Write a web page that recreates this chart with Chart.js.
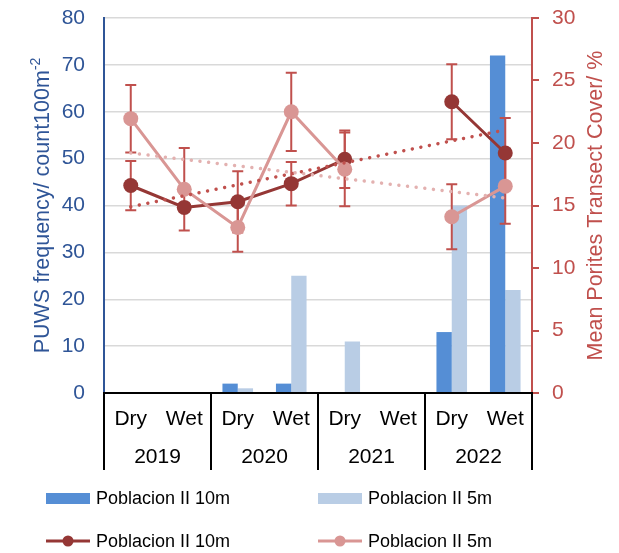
<!DOCTYPE html>
<html>
<head>
<meta charset="utf-8">
<script src="https://cdn.jsdelivr.net/npm/chart.js@4.4.0/dist/chart.umd.min.js"></script>
<style>
  html, body { margin: 0; padding: 0; background: #fff; }
</style>
</head>
<body>
<canvas id="chart" width="619" height="553"></canvas>
<script>
const seasons = ['Dry', 'Wet', 'Dry', 'Wet', 'Dry', 'Wet', 'Dry', 'Wet'];
const years = ['2019', '2020', '2021', '2022'];
const seriesNames = ['Poblacion II 10m', 'Poblacion II 5m'];

// PUWS frequency (left axis)
const puws10m = [0, 0, 2, 2, 0, 0, 13, 72];
const puws5m = [0, 0, 1, 25, 11, 0, 40, 22];

// Mean Porites transect cover (right axis) with its error
const cover10m = [16.6, 14.85, 15.3, 16.75, 18.7, null, 23.3, 19.2];
const cover5m = [21.95, 16.3, 13.25, 22.5, 17.9, null, 14.1, 16.55];
const err10m = [1.97, 0.3, 2.45, 1.74, 2.3, null, 3.0, 2.8];
const err5m = [2.7, 3.3, 1.95, 3.13, 2.95, null, 2.6, 3.0];

// linear trend, first and last season
const trend10m = [14.9, 21.05];
const trend5m = [19.2, 15.6];

const leftTicks = { min: 0, max: 80, step: 10 };
const rightTicks = { min: 0, max: 30, step: 5 };

const C = {
  bar10: '#558ED5',
  bar5: '#B9CDE5',
  line10: '#953735',
  line5: '#D99694',
  trend10: '#C0504D',
  trend5: '#E3B1B0',
  err: '#C0504D',
  blue: '#2F5597',
  red: '#C0504D'
};
const FONT = '"Liberation Sans", Arial, sans-serif';

function trendLine(ends) {
  return seasons.map((_, i) => i === 0 ? ends[0] : (i === seasons.length - 1 ? ends[1] : null));
}

// error bars go on top of the columns but under the lines
const errorBars = {
  id: 'errorBars',
  beforeDatasetDraw(chart, args) {
    if (args.index !== 2) return;
    const { ctx, scales: { x, y1 } } = chart;
    ctx.save();
    ctx.strokeStyle = C.err;
    ctx.lineWidth = 2;
    [[cover10m, err10m], [cover5m, err5m]].forEach(([vals, errs]) => {
      vals.forEach((v, i) => {
        if (v == null || errs[i] == null) return;
        const px = x.getPixelForValue(i);
        const top = y1.getPixelForValue(v + errs[i]);
        const bot = y1.getPixelForValue(v - errs[i]);
        ctx.beginPath();
        ctx.moveTo(px, top); ctx.lineTo(px, bot);
        ctx.moveTo(px - 5.5, top); ctx.lineTo(px + 5.5, top);
        ctx.moveTo(px - 5.5, bot); ctx.lineTo(px + 5.5, bot);
        ctx.stroke();
      });
    });
    ctx.restore();
  }
};

// two-level category axis (season / year) drawn as a table
const seasonAxis = {
  id: 'seasonAxis',
  afterDraw(chart) {
    const { ctx, chartArea: a, scales: { x } } = chart;
    ctx.save();
    ctx.strokeStyle = '#000';
    ctx.lineWidth = 2;
    ctx.beginPath();
    ctx.moveTo(a.left - 1, a.bottom);
    ctx.lineTo(a.right + 1, a.bottom);
    const w = (a.right - a.left) / years.length;
    for (let i = 0; i <= years.length; i++) {
      const px = Math.round(a.left + i * w);
      ctx.moveTo(px, a.bottom);
      ctx.lineTo(px, a.bottom + 77);
    }
    ctx.stroke();

    ctx.fillStyle = '#000';
    ctx.font = '21px ' + FONT;
    ctx.textAlign = 'center';
    ctx.textBaseline = 'middle';
    seasons.forEach((s, i) => ctx.fillText(s, x.getPixelForValue(i), a.bottom + 26));
    years.forEach((yr, i) => {
      const px = (x.getPixelForValue(2 * i) + x.getPixelForValue(2 * i + 1)) / 2;
      ctx.fillText(yr, px, a.bottom + 64);
    });
    ctx.restore();
  }
};

// rotated axis titles (left one has a superscript)
const axisTitles = {
  id: 'axisTitles',
  afterDraw(chart) {
    const { ctx, chartArea: a } = chart;
    const cy = (a.top + a.bottom) / 2;
    ctx.save();
    ctx.textBaseline = 'middle';
    ctx.textAlign = 'left';

    ctx.save();
    ctx.translate(43, cy);
    ctx.rotate(-Math.PI / 2);
    ctx.fillStyle = C.blue;
    ctx.font = '21.5px ' + FONT;
    const main = 'PUWS frequency/ count100m';
    const mw = ctx.measureText(main).width;
    ctx.font = '14px ' + FONT;
    const sup = '-2';
    const sw = ctx.measureText(sup).width;
    const x0 = -(mw + sw) / 2;
    ctx.font = '21.5px ' + FONT;
    ctx.fillText(main, x0, 0);
    ctx.font = '14px ' + FONT;
    ctx.fillText(sup, x0 + mw, -7);
    ctx.restore();

    ctx.save();
    ctx.translate(596, cy);
    ctx.rotate(-Math.PI / 2);
    ctx.fillStyle = C.red;
    ctx.font = '21.5px ' + FONT;
    ctx.textAlign = 'center';
    ctx.fillText('Mean Porites Transect Cover/ %', 0, 0);
    ctx.restore();

    ctx.restore();
  }
};

// 2 x 2 legend under the axis
const legendGrid = {
  id: 'legendGrid',
  afterDraw(chart) {
    const { ctx } = chart;
    const cols = [46, 318];
    const rows = [498, 541];
    const items = [
      { type: 'bar', color: C.bar10, text: seriesNames[0] },
      { type: 'bar', color: C.bar5, text: seriesNames[1] },
      { type: 'line', color: C.line10, text: seriesNames[0] },
      { type: 'line', color: C.line5, text: seriesNames[1] }
    ];
    ctx.save();
    ctx.font = '18px ' + FONT;
    ctx.textBaseline = 'middle';
    ctx.textAlign = 'left';
    items.forEach((it, k) => {
      const lx = cols[k % 2];
      const ly = rows[Math.floor(k / 2)];
      if (it.type === 'bar') {
        ctx.fillStyle = it.color;
        ctx.fillRect(lx, ly - 5, 44, 11);
      } else {
        ctx.strokeStyle = it.color;
        ctx.lineWidth = 3;
        ctx.beginPath();
        ctx.moveTo(lx, ly); ctx.lineTo(lx + 44, ly);
        ctx.stroke();
        ctx.fillStyle = it.color;
        ctx.beginPath();
        ctx.arc(lx + 22, ly, 5.5, 0, Math.PI * 2);
        ctx.fill();
      }
      ctx.fillStyle = '#000';
      ctx.fillText(it.text, lx + 50, ly + 1);
    });
    ctx.restore();
  }
};

// fixed axis widths, no extra room for the outer tick labels
function fixWidth(w) {
  return function (scale) {
    scale.width = w;
    scale.paddingTop = 0;
    scale.paddingBottom = 0;
  };
}

new Chart(document.getElementById('chart'), {
  data: {
    labels: seasons.map((s, i) => s + ' ' + years[Math.floor(i / 2)]),
    datasets: [
      {
        type: 'bar', label: seriesNames[0], data: puws10m, yAxisID: 'y',
        backgroundColor: C.bar10, categoryPercentage: 0.572, barPercentage: 1, order: 6
      },
      {
        type: 'bar', label: seriesNames[1], data: puws5m, yAxisID: 'y',
        backgroundColor: C.bar5, categoryPercentage: 0.572, barPercentage: 1, order: 6
      },
      {
        type: 'line', label: seriesNames[0], data: cover10m, yAxisID: 'y1',
        borderColor: C.line10, backgroundColor: C.line10, borderWidth: 3,
        pointRadius: 7.5, pointBorderWidth: 0, spanGaps: false, order: 4
      },
      {
        type: 'line', label: seriesNames[1], data: cover5m, yAxisID: 'y1',
        borderColor: C.line5, backgroundColor: C.line5, borderWidth: 3,
        pointRadius: 7.5, pointBorderWidth: 0, spanGaps: false, order: 3
      },
      {
        type: 'line', label: 'trend 10m', data: trendLine(trend10m), yAxisID: 'y1',
        borderColor: C.trend10, borderWidth: 3.5, borderDash: [0.01, 8.7], borderCapStyle: 'round',
        pointRadius: 0, spanGaps: true, order: 2
      },
      {
        type: 'line', label: 'trend 5m', data: trendLine(trend5m), yAxisID: 'y1',
        borderColor: C.trend5, borderWidth: 3.5, borderDash: [0.01, 8.7], borderCapStyle: 'round',
        pointRadius: 0, spanGaps: true, order: 1
      }
    ]
  },
  options: {
    responsive: false,
    animation: false,
    layout: { padding: { top: 18, bottom: 160, left: 0, right: 0 } },
    plugins: {
      legend: { display: false },
      tooltip: { enabled: false }
    },
    scales: {
      x: { display: false },
      y: {
        position: 'left',
        min: leftTicks.min, max: leftTicks.max,
        afterFit: fixWidth(104),
        ticks: { stepSize: leftTicks.step, color: C.blue, padding: 19, font: { family: FONT, size: 21 } },
        grid: { color: '#D9D9D9', lineWidth: 1.5, drawTicks: false },
        border: { color: C.blue, width: 2 }
      },
      y1: {
        position: 'right',
        min: rightTicks.min, max: rightTicks.max,
        afterFit: fixWidth(87),
        ticks: { stepSize: rightTicks.step, color: C.red, padding: 13, font: { family: FONT, size: 21 } },
        grid: { drawOnChartArea: false, drawTicks: true, tickLength: 7, color: C.red, lineWidth: 2 },
        border: { color: C.red, width: 2 }
      }
    }
  },
  plugins: [errorBars, seasonAxis, axisTitles, legendGrid]
});
</script>
</body>
</html>
